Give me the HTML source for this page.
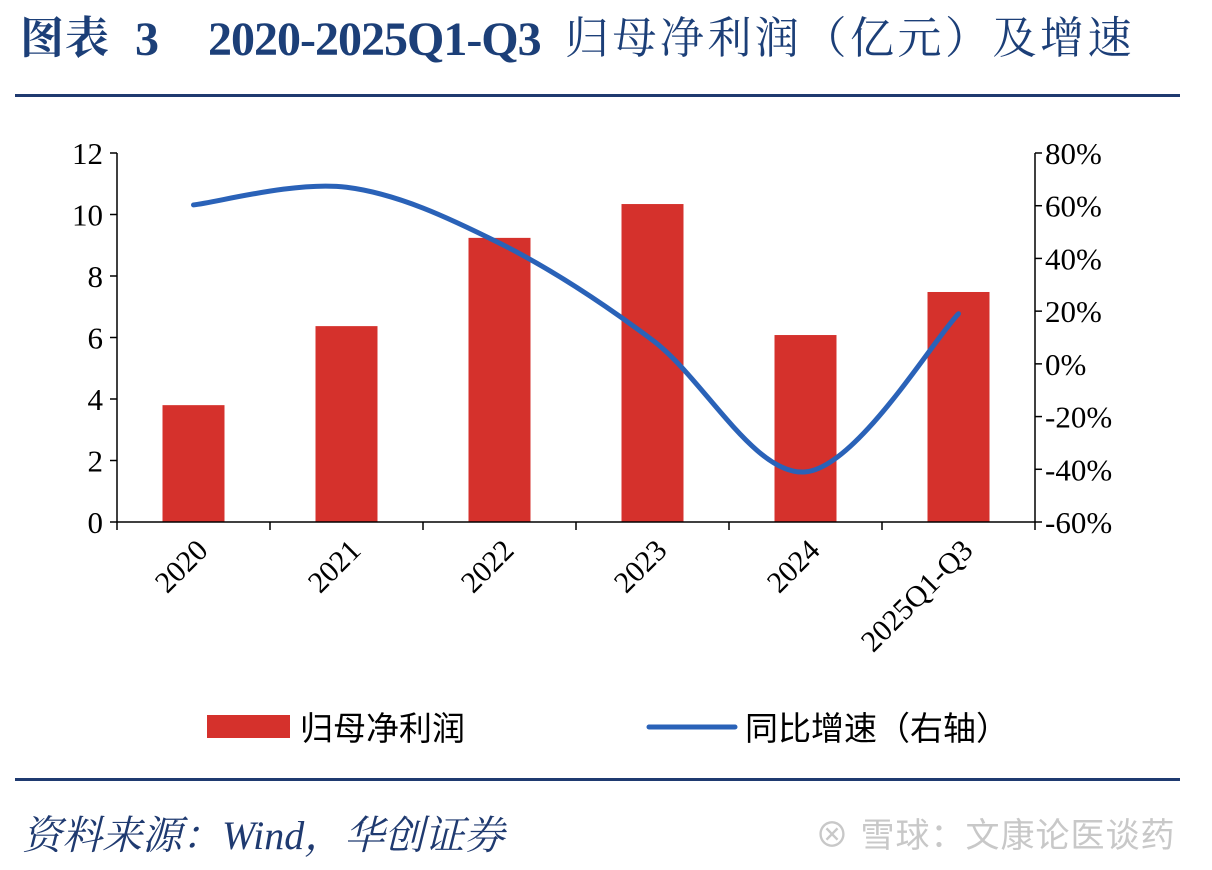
<!DOCTYPE html>
<html><head><meta charset="utf-8">
<style>
body{margin:0;background:#fff;width:1212px;height:870px;overflow:hidden;position:relative;font-family:"Liberation Serif","Noto Serif CJK SC",serif;}
.t{position:absolute;font-weight:bold;color:#1c3f78;white-space:nowrap;line-height:1;}
.rule{position:absolute;left:15px;width:1165px;height:3px;background:#1f3a70;}
.src{position:absolute;left:22px;top:804px;font-size:40px;font-style:italic;color:#1f3a70;white-space:nowrap;}
.wm{position:absolute;left:815px;top:808px;font-size:34px;color:#c8c8c8;font-family:"Liberation Sans","Noto Sans CJK SC",sans-serif;white-space:nowrap;letter-spacing:1px;}
</style></head><body>
<div>
<span class="t" style="left:20px;top:17px;font-size:44px;letter-spacing:1px">图表</span>
<span class="t" style="left:135px;top:16px;font-size:48px">3</span>
<span class="t" style="left:208px;top:16px;font-size:48px;letter-spacing:-1px">2020-2025Q1-Q3</span>
<span class="t" style="left:565px;top:17px;font-size:44px;letter-spacing:3.5px;font-weight:normal">归母净利润（亿元）及增速</span>
</div>
<div class="rule" style="top:94px"></div>
<div class="rule" style="top:778px"></div>
<div class="src">资料来源：Wind，华创证券</div>
<div class="wm">⊗ 雪球：文康论医谈药</div>
<svg id="chart" width="1212" height="870" style="position:absolute;left:0;top:0"></svg>
<script>
const categories=["2020","2021","2022","2023","2024","2025Q1-Q3"];
const profit=[3.80,6.37,9.24,10.34,6.08,7.48];
const growth=[60.3,67,45.8,9,-41,19];
const leftTicks=[0,2,4,6,8,10,12];
const rightTicks=[-60,-40,-20,0,20,40,60,80];
const rightTickLabels=["-60%","-40%","-20%","0%","20%","40%","60%","80%"];

const svg=document.getElementById('chart');
const NS='http://www.w3.org/2000/svg';
const X0=117,X1=1035,Y0=522,Y1=153;
const band=(X1-X0)/categories.length;
const xc=i=>X0+band*(i+0.5);
const yL=v=>Y0-(v-0)/(12-0)*(Y0-Y1);
const yR=v=>Y0-(v+60)/140*(Y0-Y1);
function mk(tag,attrs){const e=document.createElementNS(NS,tag);for(const k in attrs)e.setAttribute(k,attrs[k]);svg.appendChild(e);return e;}

profit.forEach((v,i)=>{
  const r=mk('rect',{x:xc(i)-31,y:yL(v),width:62,height:Y0-yL(v),fill:'#d5312c'});
  
  
});
const ax=mk('path',{d:`M${X0} ${Y1}V${Y0}H${X1}V${Y1}`,stroke:'#000','stroke-width':1.5,fill:'none'});


leftTicks.forEach(v=>{
  mk('line',{x1:X0-7,x2:X0,y1:yL(v),y2:yL(v),stroke:'#000','stroke-width':1.5});
  const t=mk('text',{x:X0-14,y:yL(v)+11,'text-anchor':'end','font-size':31});
  t.textContent=v;
  
  
});
rightTicks.forEach((v,i)=>{
  mk('line',{x1:X1,x2:X1+7,y1:yR(v),y2:yR(v),stroke:'#000','stroke-width':1.5});
  const t=mk('text',{x:X1+10,y:yR(v)+11,'font-size':31});
  t.textContent=rightTickLabels[i];
  
  
});
for(let i=0;i<=categories.length;i++){
  const x=X0+band*i;
  mk('line',{x1:x,x2:x,y1:Y0,y2:Y0+8,stroke:'#000','stroke-width':1.5});
}
categories.forEach((c,i)=>{
  const x=xc(i)+16,y=Y0+30;
  const t=mk('text',{x:x,y:y,'text-anchor':'end','font-size':30,transform:`rotate(-45 ${x} ${y})`});
  t.textContent=c;
  
  
});
const pts=growth.map((v,i)=>[xc(i),yR(v)]);
let d=`M${pts[0][0]} ${pts[0][1]}`;
for(let i=0;i<pts.length-1;i++){
  const p0=pts[i-1]||pts[i],p1=pts[i],p2=pts[i+1],p3=pts[i+2]||p2;
  const c1=[p1[0]+(p2[0]-p0[0])/6,p1[1]+(p2[1]-p0[1])/6];
  const c2=[p2[0]-(p3[0]-p1[0])/6,p2[1]-(p3[1]-p1[1])/6];
  d+=`C${c1[0]} ${c1[1]} ${c2[0]} ${c2[1]} ${p2[0]} ${p2[1]}`;
}
const ln=mk('path',{d:d,stroke:'#2a62b8','stroke-width':5,fill:'none','stroke-linecap':'round'});


const lr=mk('rect',{x:207,y:715,width:83,height:23,fill:'#d5312c'});


const lt1=mk('text',{x:300,y:740,'font-size':33,'font-family':'"Liberation Sans","Noto Sans CJK SC",sans-serif'});
lt1.textContent='归母净利润';


const ll=mk('line',{x1:649,x2:735,y1:727,y2:727,stroke:'#2a62b8','stroke-width':5,'stroke-linecap':'round'});


const lt2=mk('text',{x:745,y:740,'font-size':33,'font-family':'"Liberation Sans","Noto Sans CJK SC",sans-serif'});
lt2.textContent='同比增速（右轴）';


</script>
</body></html>
